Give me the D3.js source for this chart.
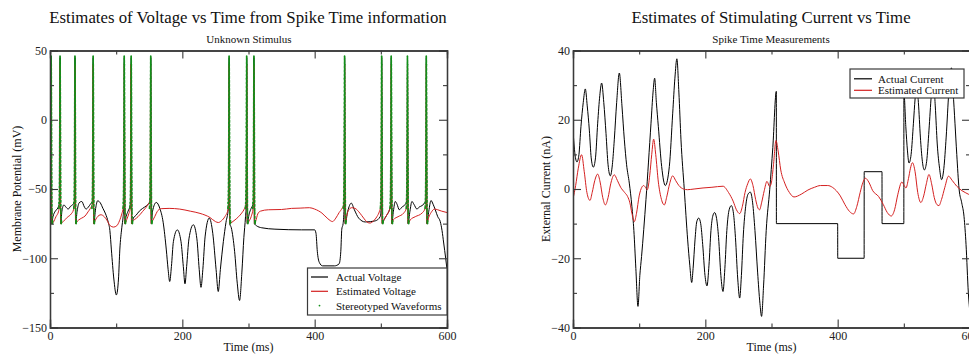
<!DOCTYPE html>
<html>
<head>
<meta charset="utf-8">
<script src="https://cdn.jsdelivr.net/npm/d3@7"></script>
<style>
  html, body { margin: 0; padding: 0; background: #fff; }
  svg { display: block; font-family: "Liberation Serif", "Times New Roman", serif; }
</style>
</head>
<body>
<svg id="chart" width="969" height="354"></svg>
<script>
// ---------------- DATA ----------------
const xTicks = [0, 200, 400, 600];
const xMinorTicks = [100, 300, 500];
const voltTicks = [-150, -100, -50, 0, 50];
const voltMinorTicks = [-125, -75, -25, 25];
const currTicks = [-40, -20, 0, 20, 40];
const currMinorTicks = [-30, -10, 10, 30];

// spike times (ms)
const spikeTimes = [1.5, 15, 37.5, 65, 112, 122.5, 152, 270.5, 297, 308, 445, 501, 515.5, 540, 568.5];

// stereotyped spike waveform template (offset ms, mV)
const waveformOffsets = [-1.6, -1.2, -0.8, -0.5, -0.25, 0, 0.2, 0.4, 0.65, 0.9, 1.15, 1.4, 1.7, 2.0, 2.4];
const waveformValues  = [-64, -60, -52, -35, -5, 30, 46, 40, 15, -15, -45, -66, -74, -75, -73];

// actual voltage [t, mV]
const actualVoltage = [
  [0,-62],[1.2,-58],[1.8,45],[2.6,-75],[4.5,-70],[8,-66],[12,-63.5],[14.7,-59],[15.3,45],[16.1,-75],
  [18,-66],[21,-61.5],[24,-63],[27.5,-64.5],[31,-62.5],[35,-61],[37.2,-58],[37.8,45],[38.6,-75],
  [41,-66],[44,-60],[48,-59],[52,-63],[54.5,-64.5],[58,-63],[61,-61],[64.7,-58],[65.3,45],[66.1,-75],
  [69,-64],[72,-58.5],[76,-60],[80,-64],[84,-68],[88,-74],[90.5,-80],[92.8,-94],[96.5,-115],[100.3,-126.5],
  [103.5,-115],[105.5,-94],[108.5,-78],[110.5,-70],[111.7,-62],[112.3,45],[113.1,-75],
  [115,-70],[118,-66],[121,-62],[122.2,-58],[122.8,45],[123.6,-75],
  [126,-71],[130,-69],[135,-66],[140,-64],[146,-62],[150,-60],[151.7,-57],[152.3,45],[153.1,-75],
  [155,-66],[160.6,-59.7],[166,-64],[171,-74],[175.8,-94],[178.5,-108],[180.9,-116.8],[183.5,-106],[186.5,-88],
  [192.4,-79.5],[198,-88],[201.5,-106],[204,-118.5],[206.5,-106],[210,-86],[216.6,-75.8],[222,-86],
  [225.5,-108],[228.2,-121],[231,-108],[234.5,-84],[240.7,-71],[246,-82],[251,-108],[254.3,-124],
  [257.5,-108],[262,-88],[266,-74],[269.5,-64],[270.2,-58],[270.8,45],[271.6,-75],
  [274,-78],[279,-95],[283,-118],[286.5,-130.5],[290,-110],[293,-85],[295.5,-70],[296.7,-60],[297.3,45],[298.1,-75],
  [301,-68],[304,-64],[307.5,-60],[308.1,45],[308.9,-75],
  [312,-76.5],[320,-78],[340,-79],[380,-79.5],[400,-79.5],[402,-82],[404,-95],[407,-103],[412,-105.5],
  [430,-105.5],[437,-104],[439.5,-95],[441,-79],[443,-75],[444.7,-60],[445.3,45],[446.1,-75],
  [450,-66],[455.3,-60.2],[460,-65],[466.5,-71],[476.5,-73.8],[491.6,-73],[499,-70],[500.7,-62],[501.3,45],[502.1,-75],
  [505,-72],[509.3,-68.6],[513,-65],[515.2,-60],[515.8,45],[516.6,-75],
  [519,-66],[521.8,-59],[524.5,-61],[527.9,-65],[532,-63],[536,-61.6],[539.7,-58],[540.3,45],[541.1,-75],
  [544,-66],[547,-59],[550,-61],[554.6,-64.5],[558,-63],[562.2,-62],[568.2,-58],[568.8,45],[569.6,-75],
  [572.5,-66],[575.8,-58.3],[579,-61],[582.3,-65],[586,-70],[589.8,-73.5],[592.5,-80],[595,-89],[598,-100],[600,-108]
];

// estimated voltage [t, mV]
const estimatedVoltage = [
  [0,-55],[1.2,-52],[1.8,40],[2.6,-75],[5,-74],[9,-70],[13,-66],[14.7,-61],[15.3,40],[16.1,-75],
  [20,-73.5],[26,-70.5],[32,-68],[35.5,-65],[37.2,-61],[37.8,40],[38.6,-75],
  [40,-74],[43,-72.5],[48,-71],[53,-69.5],[57.5,-66.5],[61,-64],[64.5,-60],[65.1,40],[65.9,-75],
  [68,-73],[71,-70.5],[77,-68.6],[82,-70],[86,-72.5],[91,-76.5],[96,-77.5],[101,-76.5],[105,-73],
  [108.5,-68],[111,-63],[111.8,-60],[112.4,40],[113.2,-75],
  [116,-72],[119,-68],[121.7,-63],[122.3,40],[123.1,-75],
  [125,-73],[128,-72],[133,-70],[140,-66.2],[147,-62],[151.4,-58],[152,40],[152.8,-75],
  [155,-73],[158.2,-70],[163.2,-65.5],[168,-64.2],[180,-64],[196,-64.5],[212,-66],[226.7,-67.6],
  [241.8,-70.6],[250,-73.5],[254.4,-74.2],[259,-73],[264.5,-69.8],[269,-65],[270.2,-60],[270.8,40],[271.6,-75],
  [275,-74],[279.6,-72.3],[285,-70],[289.7,-67.4],[294,-64],[296.7,-60],[297.3,40],[298.1,-75],
  [301,-73],[304,-70],[307.5,-62],[308.1,40],[308.9,-75],
  [311,-73],[314,-68],[318,-66],[330,-65],[350,-64.8],[365,-64],[378,-63.8],[392,-63.5],[400,-64.5],
  [411,-67.4],[420,-71.5],[427,-73.5],[432,-71],[437,-67],[441.3,-64],[444.7,-60],[445.3,40],[446.1,-75],
  [448.5,-69],[451,-65.5],[456,-63.5],[461,-64],[468.5,-67.5],[474,-71],[479,-73.8],[483.5,-74.6],
  [489,-73],[494,-70],[498,-66],[500.5,-61],[501.1,40],[501.9,-75],
  [505,-72],[510,-68],[513.5,-64.5],[515.2,-61],[515.8,40],[516.6,-75],
  [519.4,-72],[526,-70],[534.5,-67.4],[538.5,-64],[539.7,-61],[540.3,40],[541.1,-75],
  [544.5,-72.3],[552,-70],[562.2,-67.4],[566.5,-64.5],[568.2,-61],[568.8,40],[569.6,-75],
  [572.3,-70.5],[576,-67],[581,-64.5],[586,-65],[592,-66],[600,-67]
];

// actual current [t, nA]
const actualCurrent = [
  [0,17],[3,10],[6,7.8],[9,10],[12,18],[15.5,25],[18.6,28.9],[21.5,24],[24.7,17],[27.5,9],[30.7,6.3],
  [34,9],[37.3,19],[40.5,27],[43.3,30.6],[46.5,25],[49.9,16],[53,7],[56.4,3.8],[59.5,7],[62.4,14.2],
  [66,25],[70,33.5],[74,24],[77.6,14.2],[81,7],[85.1,1.7],[89,-5],[92,-12],[95,-23],[98.2,-33.9],
  [101,-25],[103.6,-19.5],[110.3,-3],[117.9,19],[121,28],[123.4,32],[126,25],[129,18],[134,6.5],
  [139.5,1],[145.6,6.5],[150.7,21.9],[154,32],[157,37.6],[160,28],[163.2,14.2],[168.2,-0.2],
  [173.3,-14.7],[176.5,-22],[179.4,-27],[181.5,-23],[184.4,-14.7],[187,-9.5],[190,-8.4],[193,-10],
  [196,-16],[199.5,-25],[202.5,-28],[205.5,-22],[208.5,-12],[211,-8],[214,-6.8],[217,-8.5],[220,-14],
  [223.5,-25],[226.7,-29.6],[229.5,-23],[232.5,-12],[236,-6],[239.3,-4.8],[242.5,-7],[245.5,-14],
  [249,-26],[251.9,-31.5],[254.5,-25],[257.5,-13],[261,-5],[264.5,-1.5],[268,-0.9],[271.5,-4],
  [275,-12],[279,-24],[282.5,-33],[285,-36.8],[288,-28],[292,-12],[297.3,-0.2],[302,12],[307.3,28.2],
  [307.4,-10],[400,-10],[400.1,-20],[440,-20],[440.1,5],[467,5],[467.1,-10],[500,-10],
  [500.1,28],[503,18],[505.5,11],[507.8,7.5],[511,10],[514.5,19],[517,26],[519.4,30],[522,25],
  [525,15],[528,8],[531,5.5],[534.5,8],[538,17],[541.5,27],[544.5,32],[547.5,24],[550.5,13],
  [554,6],[557,2.7],[560.5,6],[564,15],[568,28],[572,35],[574.5,28],[577.3,19],[580,10],[583.5,0],
  [587.5,-4],[591,-8],[594,-16],[597.5,-30],[600,-36]
];

// estimated current [t, nA]
const estimatedCurrent = [
  [0,-2.9],[4,1],[8,6],[13,9.9],[17,5],[21,-1],[25.7,-3.3],[29,-1],[33,2.5],[37.3,4.3],[41,2],
  [45,-2.5],[48.9,-4.6],[53,-2.5],[57,1.5],[62.4,4.1],[67,2.5],[72,0.5],[78,-1],[82.6,-2.2],
  [86,-4],[89,-7],[92.7,-9.4],[96,-7],[100,-2],[104,0.5],[106.8,1],[109.5,0.5],[112.3,-0.2],
  [116,4],[119,10],[121.9,14.4],[125,10],[129,2],[133,-2.5],[138,-4.6],[142,-2],[146,1.5],
  [150.7,3.8],[155,2.5],[160,1],[167,0],[173,-0.2],[183,0],[196.5,0.3],[210,0.5],[226.7,0.8],
  [235,-1],[242,-3.5],[247,-6],[251.9,-7.1],[256,-5],[260,-1],[264,1.5],[268,2.9],[272,1],
  [276,-3],[279.5,-5.5],[282,-6],[285,-4],[289,-0.5],[293.2,2.2],[297.2,0.7],[300,2],[303,7],
  [306.8,14],[310,11],[314,5.5],[320,1.7],[327,-1],[334,-2.3],[345,-1.5],[355,-0.3],[365,0.5],
  [374,1],[385,1],[392,0.5],[398,-0.5],[404,-2],[411,-4.5],[418,-6.5],[424,-7.2],[429,-5],
  [434,-1],[438,1.8],[442,3.1],[447,2],[453,-0.5],[462,-2.2],[469,-4.5],[475,-6.8],[481,-7.8],
  [486,-6],[491,-1.5],[497,2],[500.5,1],[503.2,0.3],[507,3],[510,6],[513,7.6],[517,5],[521,-1],
  [525.7,-3.9],[530,-2],[534,1.5],[538,4.2],[542,1.5],[546,-2.5],[550,-4.5],[553,-4.8],[557,-3],
  [562,0.5],[567.5,3.7],[573,2.5],[580,0.8],[588,-0.5],[597.5,-1.5],[600,-1.8]
];

// ---------------- DRAW ----------------
const svg = d3.select("#chart");
svg.append("rect").attr("width", 969).attr("height", 354).attr("fill", "#fff");

const plotTop = 50.5, plotBottom = 327.5;
const axisColor = "#3a3a3a";

function drawFrame(g, x, y, xt, xm, yt, ym) {
  const [x0, x1] = x.range();
  g.append("g").attr("transform", `translate(0,${plotBottom})`)
    .call(d3.axisBottom(x).tickValues(xt).tickSize(-8).tickPadding(4).tickFormat(d3.format("d")));
  g.append("g").attr("transform", `translate(0,${plotBottom})`)
    .call(d3.axisBottom(x).tickValues(xm).tickSize(-4).tickFormat(""));
  g.append("g").attr("transform", `translate(0,${plotTop})`)
    .call(d3.axisTop(x).tickValues(xt).tickSize(-8).tickFormat(""));
  g.append("g").attr("transform", `translate(0,${plotTop})`)
    .call(d3.axisTop(x).tickValues(xm).tickSize(-4).tickFormat(""));
  g.append("g").attr("transform", `translate(${x0},0)`)
    .call(d3.axisLeft(y).tickValues(yt).tickSize(-8).tickPadding(3).tickFormat(d3.format("d")));
  g.append("g").attr("transform", `translate(${x0},0)`)
    .call(d3.axisLeft(y).tickValues(ym).tickSize(-4).tickFormat(""));
  g.append("g").attr("transform", `translate(${x1},0)`)
    .call(d3.axisRight(y).tickValues(yt).tickSize(-8).tickFormat(""));
  g.append("g").attr("transform", `translate(${x1},0)`)
    .call(d3.axisRight(y).tickValues(ym).tickSize(-4).tickFormat(""));
  g.selectAll(".domain").attr("stroke", axisColor).attr("stroke-width", 1.3);
  g.selectAll(".tick line").attr("stroke", axisColor).attr("stroke-width", 1.1);
  g.selectAll(".tick text").attr("fill", "#222").style("font-size", "12px")
    .style("font-family", "'Liberation Serif', 'Times New Roman', serif");
}

function lineFor(x, y) {
  return d3.line().x(d => x(d[0])).y(d => y(d[1])).curve(d3.curveMonotoneX);
}

// ---------- LEFT PANEL ----------
const xL = d3.scaleLinear().domain([0, 600]).range([50, 447]);
const yL = d3.scaleLinear().domain([-150, 50]).range([plotBottom, plotTop]);
const gL = svg.append("g");

svg.append("defs").append("clipPath").attr("id", "clipL")
  .append("rect").attr("x", 50).attr("y", plotTop).attr("width", 397).attr("height", plotBottom - plotTop);

const dataL = gL.append("g").attr("clip-path", "url(#clipL)");
dataL.append("path").datum(actualVoltage).attr("d", lineFor(xL, yL))
  .attr("fill", "none").attr("stroke", "#000").attr("stroke-width", 1);
dataL.append("path").datum(estimatedVoltage).attr("d", lineFor(xL, yL))
  .attr("fill", "none").attr("stroke", "#d42020").attr("stroke-width", 1);

const waveform = waveformOffsets.map((o, i) => [o, waveformValues[i]]);
spikeTimes.forEach(ts => {
  const pts = waveform.map(([o, v]) => [ts + o, v]);
  dataL.append("path").datum(pts)
    .attr("d", d3.line().x(d => xL(d[0])).y(d => yL(d[1])))
    .attr("fill", "none").attr("stroke", "#12901a").attr("stroke-width", 1.6)
    .attr("stroke-dasharray", "3,1");
  dataL.selectAll(null).data(pts).enter().append("circle")
    .attr("cx", d => xL(d[0])).attr("cy", d => yL(d[1])).attr("r", 0.8).attr("fill", "#12901a");
});

drawFrame(gL, xL, yL, xTicks, xMinorTicks, voltTicks, voltMinorTicks);

svg.append("text").attr("x", 248).attr("y", 23).attr("text-anchor", "middle")
  .style("font-size", "16.8px").attr("fill", "#111")
  .text("Estimates of Voltage vs Time from Spike Time information");
svg.append("text").attr("x", 249).attr("y", 42.5).attr("text-anchor", "middle")
  .style("font-size", "11px").attr("fill", "#111").text("Unknown Stimulus");
svg.append("text").attr("x", 248.5).attr("y", 351).attr("text-anchor", "middle")
  .style("font-size", "12px").attr("fill", "#111").text("Time (ms)");
svg.append("text").attr("transform", "translate(21,189) rotate(-90)").attr("text-anchor", "middle")
  .style("font-size", "12px").attr("fill", "#111").text("Membrane Potential (mV)");

const legL = svg.append("g");
legL.append("rect").attr("x", 307.5).attr("y", 268).attr("width", 139.5).attr("height", 47)
  .attr("fill", "#fff").attr("stroke", axisColor).attr("stroke-width", 1.2);
const legLItems = [
  { label: "Actual Voltage", color: "#000", type: "line" },
  { label: "Estimated Voltage", color: "#d42020", type: "line" },
  { label: "Stereotyped Waveforms", color: "#12901a", type: "dot" }
];
legLItems.forEach((it, i) => {
  const cy = 277 + i * 14.3;
  if (it.type === "line") {
    legL.append("line").attr("x1", 311).attr("x2", 328).attr("y1", cy).attr("y2", cy)
      .attr("stroke", it.color).attr("stroke-width", 1.2);
  } else {
    legL.append("circle").attr("cx", 319.5).attr("cy", cy).attr("r", 0.9).attr("fill", it.color);
  }
  legL.append("text").attr("x", 336).attr("y", cy + 4).style("font-size", "11px")
    .attr("fill", "#111").text(it.label);
});

// ---------- RIGHT PANEL ----------
const xR = d3.scaleLinear().domain([0, 600]).range([573, 970]);
const yR = d3.scaleLinear().domain([-40, 40]).range([plotBottom, plotTop]);
const gR = svg.append("g");
svg.select("defs").append("clipPath").attr("id", "clipR")
  .append("rect").attr("x", 573).attr("y", plotTop).attr("width", 397).attr("height", plotBottom - plotTop);
const dataR = gR.append("g").attr("clip-path", "url(#clipR)");
dataR.append("path").datum(actualCurrent).attr("d", lineFor(xR, yR))
  .attr("fill", "none").attr("stroke", "#000").attr("stroke-width", 1);
dataR.append("path").datum(estimatedCurrent).attr("d", lineFor(xR, yR))
  .attr("fill", "none").attr("stroke", "#d42020").attr("stroke-width", 1);

drawFrame(gR, xR, yR, xTicks, xMinorTicks, currTicks, currMinorTicks);

svg.append("text").attr("x", 771).attr("y", 23).attr("text-anchor", "middle")
  .style("font-size", "16.8px").attr("fill", "#111")
  .text("Estimates of Stimulating Current vs Time");
svg.append("text").attr("x", 771).attr("y", 42.5).attr("text-anchor", "middle")
  .style("font-size", "11px").attr("fill", "#111").text("Spike Time Measurements");
svg.append("text").attr("x", 771.5).attr("y", 351).attr("text-anchor", "middle")
  .style("font-size", "12px").attr("fill", "#111").text("Time (ms)");
svg.append("text").attr("transform", "translate(550,189) rotate(-90)").attr("text-anchor", "middle")
  .style("font-size", "12px").attr("fill", "#111").text("External Current (nA)");

const legR = svg.append("g");
legR.append("rect").attr("x", 850).attr("y", 69).attr("width", 114).attr("height", 29)
  .attr("fill", "#fff").attr("stroke", axisColor).attr("stroke-width", 1.2);
const legRItems = [
  { label: "Actual Current", color: "#000" },
  { label: "Estimated Current", color: "#d42020" }
];
legRItems.forEach((it, i) => {
  const cy = 78.8 + i * 11.5;
  legR.append("line").attr("x1", 854).attr("x2", 872).attr("y1", cy).attr("y2", cy)
    .attr("stroke", it.color).attr("stroke-width", 1.2);
  legR.append("text").attr("x", 878).attr("y", cy + 4).style("font-size", "11px")
    .attr("fill", "#111").text(it.label);
});
</script>
</body>
</html>
